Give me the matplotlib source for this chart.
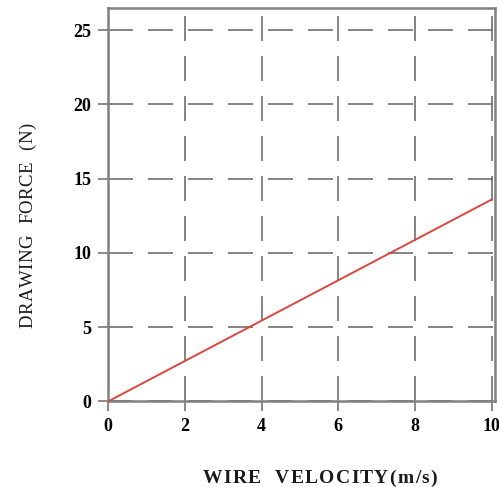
import matplotlib
matplotlib.use("Agg")
import matplotlib.pyplot as plt
from matplotlib.font_manager import FontProperties

# Data
velocity = [0, 10]
force = [0, 13.6]
xticks = [0, 2, 4, 6, 8, 10]
yticks = [0, 5, 10, 15, 20, 25]
xlabel = 'WIRE  VELOCITY(m/s)'
ylabel = 'DRAWING  FORCE  (N)'

plt.rcParams['font.family'] = ['Liberation Serif', 'DejaVu Serif']

W, H = 499, 487
fig = plt.figure(figsize=(W / 100, H / 100), dpi=100)
ax = fig.add_axes([0.2164, 0.1756, 0.7756, 0.807])

ax.plot(velocity, force, color='#d9473f', linewidth=1.4, zorder=3)

ax.set_xlim(0, 10.08)
ax.set_ylim(0, 26.45)
ax.set_xticks(xticks)
ax.set_yticks(yticks)
ax.set_xticklabels([str(t) for t in xticks], fontsize=13, fontweight='bold')
ax.set_yticklabels([str(t) for t in yticks], fontsize=13, fontweight='bold')

ax.grid(True, color='#6e6e6e', linewidth=1.2, linestyle=(0, (15, 9)))
for s in ax.spines.values():
    s.set_color('#808080')
    s.set_linewidth(1.8)
ax.tick_params(axis='both', direction='out', length=7, width=1.3, color='#808080', pad=5)

renderer = fig.canvas.get_renderer()


def tracked_text(s, start_px, base_px, span_px, size, weight, vertical=False):
    fp = FontProperties(family='Liberation Serif', size=size, weight=weight)
    widths = [renderer.get_text_width_height_descent(c, fp, ismath=False)[0] for c in s]
    track = (span_px - sum(widths)) / (len(s) - 1)
    pos = 0.0
    for c, w in zip(s, widths):
        if c != ' ':
            if vertical:
                fig.text(base_px / W, 1 - (start_px - pos) / H, c, fontproperties=fp,
                         rotation=90, rotation_mode='anchor', ha='left', va='baseline',
                         color='#1a1a1a')
            else:
                fig.text((start_px + pos) / W, 1 - base_px / H, c, fontproperties=fp,
                         ha='left', va='baseline', color='#1a1a1a')
        pos += w + track


tracked_text(xlabel, 203, 483, 234, 14, 'bold')
tracked_text(ylabel, 328, 32.5, 205, 13.5, 'normal', vertical=True)

fig.savefig('out.png', dpi=100)
